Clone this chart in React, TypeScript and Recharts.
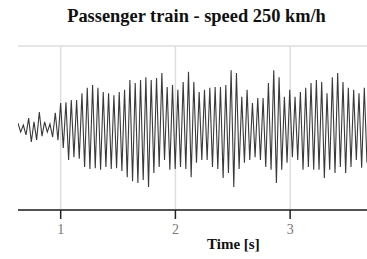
import { LineChart, Line, XAxis, YAxis, CartesianGrid, ReferenceLine } from 'recharts';

// time axis (s): first sample and sampling interval between the extrema
const START_TIME = 0.628;
const END_TIME = 3.67;
const SAMPLE_STEP = 0.02322;

const X_TICKS = [1, 2, 3];
const Y_TICKS = [-2, -1, 0, 1, 2];

// successive peak / trough values of the vibration signal (arbitrary units)
const SIGNAL = [
  0.12, -0.1, 0.07, -0.17, 0.24, -0.34, 0.15, -0.29, 0.39, -0.2, 0.15, -0.1,
  0.1, -0.22, 0.37, -0.3, 0.61, -0.49, 0.63, -0.78, 0.68, -0.71, 0.68, -0.75,
  0.85, -0.95, 0.98, -1.0, 1.05, -0.98, 0.98, -1.02, 0.88, -0.95, 0.85, -1.0,
  0.8, -0.98, 0.88, -1.05, 0.93, -1.2, 1.17, -1.3, 1.1, -1.34, 1.17, -1.27,
  1.24, -1.44, 1.17, -1.1, 1.22, -0.95, 1.34, -0.78, 1.0, -1.02, 1.05, -1.0,
  0.93, -0.95, 1.12, -1.0, 1.37, -1.2, 1.12, -0.85, 0.88, -0.78, 0.93, -0.78,
  0.98, -0.95, 1.0, -1.0, 1.0, -1.22, 1.05, -1.1, 1.41, -1.44, 1.34, -1.0,
  0.76, -0.85, 0.93, -0.78, 0.61, -0.71, 0.73, -0.78, 0.73, -0.95, 1.1, -1.02,
  1.41, -1.34, 1.24, -1.02, 0.76, -0.85, 0.93, -0.71, 0.76, -0.78, 0.88, -1.02,
  0.98, -0.95, 1.1, -1.02, 1.17, -1.02, 1.12, -1.22, 0.85, -1.02, 1.24, -1.1,
  1.34, -0.95, 1.12, -1.1, 0.98, -0.95, 0.93, -0.78, 0.85, -0.97, 0.98, -0.85,
];

const data = SIGNAL.map((v, i) => ({ t: START_TIME + i * SAMPLE_STEP, v }));

const serif = '"Liberation Serif", "Times New Roman", serif';

function TimeTick({ x, y, payload }: any) {
  return (
    <g>
      <line x1={x} x2={x} y1={y - 14} y2={y - 5} stroke="#222" strokeWidth={1.5} />
      <text x={x} y={y + 10} textAnchor="middle" fill="#777" fontSize={14} fontFamily={serif}>
        {payload.value}
      </text>
    </g>
  );
}

export default function App() {
  return (
    <div style={{ position: 'absolute', left: 0, top: 0, width: 367, height: 259, background: '#fff' }}>
      <div
        style={{
          position: 'absolute',
          left: 0,
          width: 393,
          top: 6,
          textAlign: 'center',
          fontFamily: serif,
          fontWeight: 'bold',
          fontSize: 18.4,
          color: '#111',
        }}
      >
        Passenger train - speed 250 km/h
      </div>
      <LineChart width={367} height={259} data={data} margin={{ top: 46, right: 0, bottom: 0, left: 18 }}>
        <CartesianGrid stroke="#dedede" strokeWidth={1.5} vertical={false} />
        {X_TICKS.map((t) => (
          <ReferenceLine key={t} x={t} stroke="#dedede" strokeWidth={1.5} />
        ))}
        <XAxis
          dataKey="t"
          type="number"
          domain={[START_TIME, END_TIME]}
          ticks={X_TICKS}
          allowDataOverflow
          height={49}
          tickLine={false}
          tickSize={10}
          tickMargin={4}
          tick={<TimeTick />}
          axisLine={{ stroke: '#222', strokeWidth: 1.5 }}
        />
        <YAxis
          hide
          type="number"
          domain={[-2, 2]}
          ticks={Y_TICKS}
          width={0}
          axisLine={false}
          tickLine={false}
          tick={false}
        />
        <Line
          type="linear"
          dataKey="v"
          stroke="#3a3a3a"
          strokeWidth={1.1}
          dot={false}
          isAnimationActive={false}
        />
      </LineChart>
      <div
        style={{
          position: 'absolute',
          left: 207,
          top: 236,
          fontFamily: serif,
          fontWeight: 'bold',
          fontSize: 15,
          color: '#111',
        }}
      >
        Time [s]
      </div>
    </div>
  );
}
